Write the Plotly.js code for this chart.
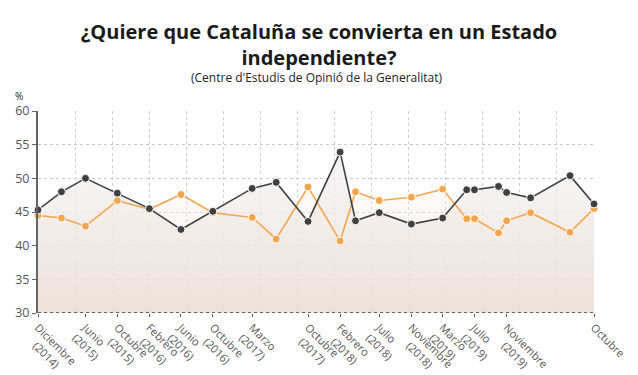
<!DOCTYPE html>
<html>
<head>
<meta charset="utf-8">
<script src="https://cdn.plot.ly/plotly-3.0.1.min.js"></script>
<style>html,body{margin:0;padding:0;background:#fff;}#chart{width:638px;height:375px;}</style>
</head>
<body>
<div id="chart"></div>
<script>
// Survey dates (month of each CEO barometer)
var dates = ['2014-12-01','2015-03-01','2015-06-01','2015-10-01','2016-02-01','2016-06-01',
             '2016-10-01','2017-03-01','2017-06-01','2017-10-01','2018-02-01','2018-04-01',
             '2018-07-01','2018-11-01','2019-03-01','2019-06-01','2019-07-01','2019-10-01',
             '2019-11-01','2020-02-01','2020-07-01','2020-10-01'];
// "Sí" (dark) and "No" (orange) percentages
var si = [45.3,48.0,50.0,47.8,45.5,42.4,45.1,48.5,49.4,43.6,53.9,43.7,
          44.9,43.2,44.1,48.3,48.3,48.8,47.9,47.1,50.4,46.2];
var no = [44.5,44.1,42.9,46.7,45.4,47.6,44.9,44.2,41.0,48.7,40.7,48.0,
          46.7,47.2,48.4,44.0,44.0,41.9,43.7,44.9,42.0,45.5];
// Tick labels
var tickDates = ['2014-12-01','2015-06-01','2015-10-01','2016-02-01','2016-06-01','2016-10-01',
                 '2017-03-01','2017-10-01','2018-02-01','2018-07-01','2018-11-01','2019-03-01',
                 '2019-07-01','2019-11-01','2020-10-01'];
var tickLabels = ['Diciembre<br>(2014)','Junio<br>(2015)','Octubre<br>(2015)','Febrero<br>(2016)',
                  'Junio<br>(2016)','Octubre<br>(2016)','Marzo<br>(2017)','Octubre<br>(2017)',
                  'Febrero<br>(2018)','Julio<br>(2018)','Noviembre<br>(2018)','Marzo<br>(2019)',
                  'Julio<br>(2019)','Noviembre<br>(2019)','Octubre'];

var xStart = dates[0], xEnd = dates[dates.length - 1];
var gridStep = (Date.parse(xEnd) - Date.parse(xStart)) / 15;

var darkC = '#404040', orangeC = '#f5a54e';
var TICK_FONT = 11;

// centre the second line of each rotated label under the first (pad with no-break spaces)
function centreLines(labels) {
  var ctx = document.createElement('canvas').getContext('2d');
  ctx.font = TICK_FONT + 'px "Open Sans"';
  var nb = ctx.measureText('\u00a0').width || TICK_FONT * 0.26;
  return labels.map(function (lab) {
    var parts = lab.split('<br>');
    if (parts.length < 2) return lab;
    var d = (ctx.measureText(parts[0]).width - ctx.measureText(parts[1]).width) / 2;
    var n = Math.max(0, Math.round(d / nb));
    return parts[0] + '<br>' + '\u00a0'.repeat(n) + parts[1];
  });
}

var traces = [
  {
    x: dates, y: si, type: 'scatter', mode: 'none',
    fill: 'tozeroy',
    fillgradient: {type: 'vertical', start: 56, stop: 30,
      colorscale: [[0, 'rgba(243,243,246,0.75)'], [1, 'rgba(232,221,213,0.72)']]},
    hoverinfo: 'skip'
  },
  {
    x: dates, y: no, type: 'scatter', mode: 'none',
    fill: 'tozeroy',
    fillgradient: {type: 'vertical', start: 50, stop: 30,
      colorscale: [[0, 'rgba(250,242,232,0.35)'], [1, 'rgba(232,220,212,0.45)']]},
    hoverinfo: 'skip'
  },
  {
    x: dates, y: no, xaxis: 'x2', type: 'scatter', mode: 'lines+markers', name: 'No',
    line: {color: orangeC, width: 1.6},
    marker: {color: orangeC, size: 8, line: {color: '#ffffff', width: 1}},
    cliponaxis: false, hoverinfo: 'skip'
  },
  {
    x: dates, y: si, xaxis: 'x2', type: 'scatter', mode: 'lines+markers', name: 'Sí',
    line: {color: darkC, width: 1.6},
    marker: {color: darkC, size: 8, line: {color: '#ffffff', width: 1}},
    cliponaxis: false, hoverinfo: 'skip'
  }
];

function draw() {
  var layout = {
    width: 638, height: 375,
    margin: {l: 38, r: 44, t: 111, b: 62},
    paper_bgcolor: '#ffffff', plot_bgcolor: '#ffffff',
    showlegend: false,
    font: {family: '"Open Sans", sans-serif', color: '#555'},
    title: {
      text: '¿Quiere que Cataluña se convierta en un Estado<br>independiente?',
      font: {family: '"Open Sans", sans-serif', size: 20, color: '#1a1a1a', weight: 'bold'},
      x: 0.5, xref: 'container', xanchor: 'center',
      y: 0.897, yref: 'container', yanchor: 'top'
    },
    xaxis: {
      type: 'date',
      range: [xStart, xEnd],
      tickmode: 'array', tickvals: tickDates, ticktext: centreLines(tickLabels),
      tickangle: 45,
      tickfont: {size: TICK_FONT, color: '#555'},
      ticks: 'outside', ticklen: 3, tickcolor: '#555',
      showgrid: false, showline: false, zeroline: false
    },
    xaxis2: {
      type: 'date', overlaying: 'x', anchor: 'y',
      range: [xStart, xEnd],
      tickmode: 'linear', tick0: xStart, dtick: gridStep,
      showticklabels: false, ticks: '',
      showgrid: true, gridcolor: '#cfcfcf', griddash: 'dot', gridwidth: 1,
      showline: false, zeroline: false
    },
    yaxis: {
      range: [30, 60], dtick: 5,
      tickfont: {size: 12.5, color: '#555'},
      ticks: 'outside', ticklen: 4, tickcolor: '#666',
      showgrid: true, gridcolor: '#c8c8c8', griddash: 'dot', gridwidth: 1,
      showline: true, linecolor: '#666', linewidth: 2,
      zeroline: false
    },
    shapes: [
      {type: 'line', xref: 'paper', yref: 'y', x0: 0, x1: 1, y0: 30, y1: 30,
       line: {color: '#666', width: 2, dash: 'dot'}, layer: 'above'}
    ],
    annotations: [
      {text: "(Centre d'Estudis de Opinió de la Generalitat)", xref: 'paper', yref: 'paper',
       x: 0.5, y: 1.0, yshift: 34, xanchor: 'center', yanchor: 'middle', showarrow: false,
       font: {size: 12, color: '#222'}},
      {text: '%', xref: 'paper', yref: 'paper', x: 0, xshift: -19, y: 1, yshift: 15,
       xanchor: 'center', yanchor: 'middle', showarrow: false,
       font: {size: 10, color: '#222'}}
    ]
  };
  Plotly.newPlot('chart', traces, layout, {displayModeBar: false, staticPlot: true});
}

if (document.fonts && document.fonts.load) {
  document.fonts.load(TICK_FONT + 'px "Open Sans"').then(draw, draw);
} else {
  draw();
}
</script>
</body>
</html>
